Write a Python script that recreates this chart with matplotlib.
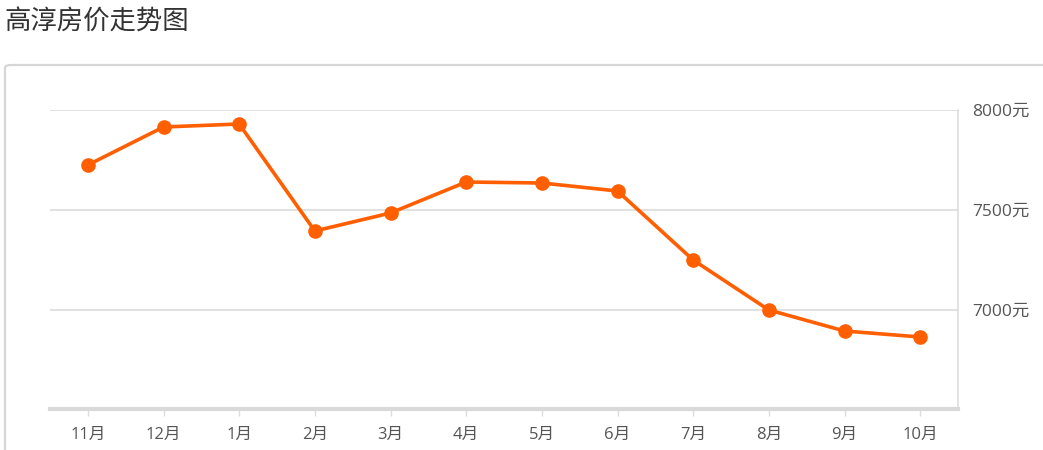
import matplotlib
matplotlib.use('Agg')
import matplotlib.pyplot as plt
from matplotlib.patches import FancyBboxPatch

plt.rcParams['font.family'] = ['Open Sans', 'Noto Sans CJK SC', 'DejaVu Sans']

W, H = 1043, 450
DPI = 100

###############################################################################

''' Data '''

months = ['11月', '12月', '1月', '2月', '3月', '4月', '5月', '6月', '7月', '8月', '9月', '10月']
prices = [7725, 7915, 7930, 7395, 7485, 7640, 7635, 7595, 7250, 7000, 6895, 6865]
yticks = [7000, 7500, 8000]
title = '高淳房价走势图'

ORANGE = '#ff5f00'
GRID = '#dcdcdc'

###############################################################################

fig = plt.figure(figsize=(W / DPI, H / DPI), dpi=DPI)
fig.patch.set_facecolor('white')

# outer rounded box (runs off the right / bottom edge)
box = FancyBboxPatch((5 / W, -0.1), 1.2, (H - 65) / H + 0.1,
                     boxstyle='round,pad=0,rounding_size=0.006',
                     transform=fig.transFigure, fill=False,
                     edgecolor='#d6d6d6', lw=1.6, clip_on=False)
fig.patches.append(box)

fig.text(4 / W, 1 - 22 / H, title, fontsize=19, color='#333333',
         ha='left', va='center', family=['Noto Sans CJK SC'])

ax = fig.add_axes([50 / W, (H - 409) / H, (958 - 50) / W, (409 - 110) / H])
ax.set_xlim(-0.5, len(months) - 0.5)
ax.set_ylim(6505, 8000)

x = list(range(len(months)))
ax.plot(x, prices, '-', color=ORANGE, lw=2.6, marker='o', ms=9.5, zorder=3,
        clip_on=False)

ax.set_xticks(x)
ax.set_xticklabels(months, fontsize=12, color='#555555')
ax.set_yticks(yticks)
ax.set_yticklabels(['%d元' % v for v in yticks], fontsize=12.5, color='#555555')
ax.yaxis.tick_right()
ax.tick_params(axis='y', length=0, pad=10)
ax.tick_params(axis='x', length=5, width=1, color='#dddddd', pad=8)

ax.grid(axis='y', color=GRID, lw=1.2)
ax.set_axisbelow(True)

for s in ['left', 'top']:
    ax.spines[s].set_visible(False)
ax.spines['right'].set_color('#dddddd')
ax.spines['right'].set_linewidth(1.2)
ax.spines['bottom'].set_color('#d9d9d9')
ax.spines['bottom'].set_linewidth(3)

fig.savefig('out.png', dpi=DPI)
